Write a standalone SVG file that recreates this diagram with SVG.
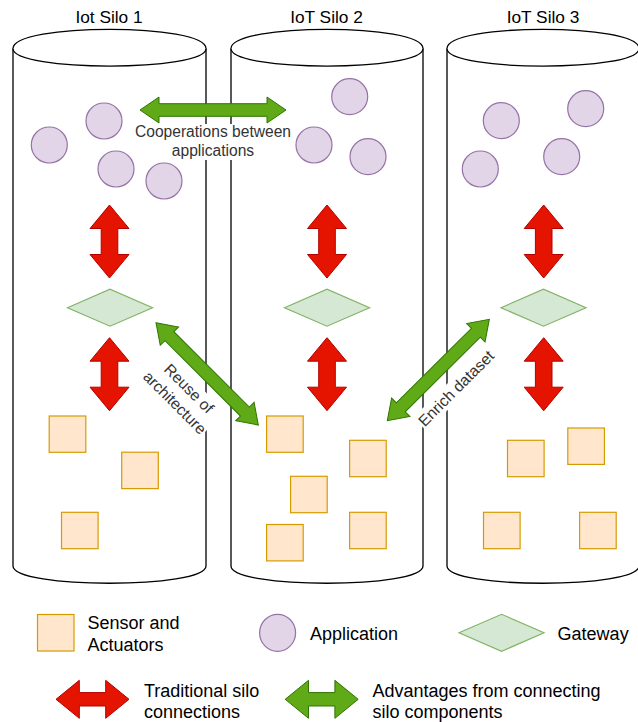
<svg xmlns="http://www.w3.org/2000/svg" xmlns:xlink="http://www.w3.org/1999/xlink" width="638" height="722" viewBox="0 0 638 722">
<style>
.cyl{fill:#ffffff;stroke:#000000;stroke-width:1.3}
.app{fill:#e1d5e7;stroke:#9673a6;stroke-width:1.2}
.gw{fill:#d5e8d4;stroke:#82b366;stroke-width:1.2}
.sen{fill:#ffe6cc;stroke:#d79b00;stroke-width:1.2}
.red{fill:#e51400;stroke:#b20000;stroke-width:1}
.grn{fill:#60a917;stroke:#2d7600;stroke-width:1}
text{font-family:"Liberation Sans",Arial,Helvetica,sans-serif;fill:#000000}
.title{font-size:17.3px;text-anchor:middle}
.lbl{font-size:15.6px;text-anchor:middle;fill:#333333}
.leg{font-size:18px}
</style>
<defs>
<path id="redV" d="M0,0 L23.5,-19.5 L23.5,-8.3 L49.5,-8.3 L49.5,-19.5 L73,0 L49.5,19.5 L49.5,8.3 L23.5,8.3 L23.5,19.5 Z"/>
<path id="legArrow" d="M0,0 L23.3,-19 L23.3,-6.7 L49.7,-6.7 L49.7,-19 L73,0 L49.7,19 L49.7,6.7 L23.3,6.7 L23.3,19 Z"/>
</defs>

<g id="silo1">
<path class="cyl" d="M13,48.5 C13,23 206,23 206,48.5 L206,566 C206,589 13,589 13,566 Z"/>
<path class="cyl" fill="none" d="M13,48.5 C13,72 206,72 206,48.5"/>
<text class="title" x="109" y="23">Iot Silo 1</text>
</g>
<g id="silo2">
<path class="cyl" d="M231,48.5 C231,23 423,23 423,48.5 L423,566 C423,589 231,589 231,566 Z"/>
<path class="cyl" fill="none" d="M231,48.5 C231,72 423,72 423,48.5"/>
<text class="title" x="326.5" y="23">IoT Silo 2</text>
</g>
<g id="silo3">
<path class="cyl" d="M447,48.5 C447,23 639,23 639,48.5 L639,566 C639,589 447,589 447,566 Z"/>
<path class="cyl" fill="none" d="M447,48.5 C447,72 639,72 639,48.5"/>
<text class="title" x="543" y="23">IoT Silo 3</text>
</g>

<g id="apps1">
<circle class="app" cx="49.3" cy="145" r="18"/>
<circle class="app" cx="104" cy="121" r="18"/>
<circle class="app" cx="116" cy="169" r="18"/>
<circle class="app" cx="164" cy="181" r="18"/>
</g>
<g id="apps2">
<circle class="app" cx="349.7" cy="96.7" r="18"/>
<circle class="app" cx="314" cy="145" r="18"/>
<circle class="app" cx="368" cy="156.7" r="18"/>
</g>
<g id="apps3">
<circle class="app" cx="501.3" cy="120.7" r="18"/>
<circle class="app" cx="585.7" cy="108.7" r="18"/>
<circle class="app" cx="480.3" cy="169" r="18"/>
<circle class="app" cx="561.7" cy="156.7" r="18"/>
</g>

<g id="gateway1"><polygon class="gw" points="67.5,307.7 110,289.2 152.5,307.7 110,326.2"/></g>
<g id="gateway2"><polygon class="gw" points="284.5,307.7 327,289.2 369.5,307.7 327,326.2"/></g>
<g id="gateway3"><polygon class="gw" points="501,307.7 543.5,289.2 586,307.7 543.5,326.2"/></g>

<g id="sensors1">
<rect class="sen" x="49.2" y="416" width="36.6" height="36.3"/>
<rect class="sen" x="121.7" y="452.2" width="36.6" height="36.4"/>
<rect class="sen" x="61.5" y="512.3" width="36.6" height="36.4"/>
</g>
<g id="sensors2">
<rect class="sen" x="266.6" y="416" width="36.6" height="36.3"/>
<rect class="sen" x="349.6" y="440.3" width="36.6" height="36.4"/>
<rect class="sen" x="290.6" y="476.3" width="36.6" height="36.4"/>
<rect class="sen" x="266.6" y="524.5" width="36.6" height="36.4"/>
<rect class="sen" x="349.6" y="512.3" width="36.6" height="36.4"/>
</g>
<g id="sensors3">
<rect class="sen" x="507.5" y="440.3" width="36.6" height="36.4"/>
<rect class="sen" x="567.8" y="428" width="36.6" height="36.4"/>
<rect class="sen" x="483.5" y="512.3" width="36.6" height="36.4"/>
<rect class="sen" x="579.6" y="512.3" width="36.6" height="36.4"/>
</g>

<g id="connectors">
<use href="#redV" xlink:href="#redV" class="red" transform="translate(109.5,205) rotate(90)"/>
<use href="#redV" xlink:href="#redV" class="red" transform="translate(109.5,337.7) rotate(90)"/>
<use href="#redV" xlink:href="#redV" class="red" transform="translate(327,205) rotate(90)"/>
<use href="#redV" xlink:href="#redV" class="red" transform="translate(327,337.7) rotate(90)"/>
<use href="#redV" xlink:href="#redV" class="red" transform="translate(543.7,205) rotate(90)"/>
<use href="#redV" xlink:href="#redV" class="red" transform="translate(543.7,337.7) rotate(90)"/>

<path class="grn" transform="translate(140,110)" d="M0,0 L19,-13 L19,-6.3 L127,-6.3 L127,-13 L146,0 L127,13 L127,6.3 L19,6.3 L19,13 Z"/>
<rect x="133" y="124" width="160" height="36" fill="#ffffff"/>
<text class="lbl" x="213" y="136.5">Cooperations between</text>
<text class="lbl" x="213" y="155.5">applications</text>

<path class="grn" transform="translate(156,322.7) rotate(45)" d="M0,0 L19,-13 L19,-6.3 L125.7,-6.3 L125.7,-13 L144.7,0 L125.7,13 L125.7,6.3 L19,6.3 L19,13 Z"/>
<g transform="translate(182,395.5) rotate(45)">
<rect x="-42" y="-19" width="84" height="38" fill="#ffffff"/>
<text class="lbl" x="0" y="-4.5">Reuse of</text>
<text class="lbl" x="0" y="15.5">architecture</text>
</g>

<path class="grn" transform="translate(387.3,420.7) rotate(-44.8)" d="M0,0 L19,-13 L19,-6.3 L124.8,-6.3 L124.8,-13 L143.8,0 L124.8,13 L124.8,6.3 L19,6.3 L19,13 Z"/>
<g transform="translate(456,388.3) rotate(-45)">
<rect x="-51" y="-9.5" width="102" height="19" fill="#ffffff"/>
<text class="lbl" x="0" y="5.5">Enrich dataset</text>
</g>
</g>

<g id="legend">
<g id="legend-sensor">
<rect class="sen" x="37.5" y="614.5" width="36.5" height="36.5"/>
<text class="leg" x="87.5" y="629">Sensor and</text>
<text class="leg" x="87.5" y="651">Actuators</text>
</g>
<g id="legend-app">
<ellipse class="app" cx="277.6" cy="632.8" rx="18" ry="18.5"/>
<text class="leg" x="310" y="640">Application</text>
</g>
<g id="legend-gateway">
<polygon class="gw" points="459,632.8 501.6,614.3 544,632.8 501.6,651.3"/>
<text class="leg" x="557.6" y="640">Gateway</text>
</g>
<g id="legend-red">
<use href="#legArrow" xlink:href="#legArrow" class="red" transform="translate(56,699.3)"/>
<text class="leg" x="144" y="696.5">Traditional silo</text>
<text class="leg" x="144" y="718">connections</text>
</g>
<g id="legend-green">
<use href="#legArrow" xlink:href="#legArrow" class="grn" transform="translate(285.2,699.3)"/>
<text class="leg" x="372.4" y="696.5">Advantages from connecting</text>
<text class="leg" x="372.4" y="718">silo components</text>
</g>
</g>
</svg>
